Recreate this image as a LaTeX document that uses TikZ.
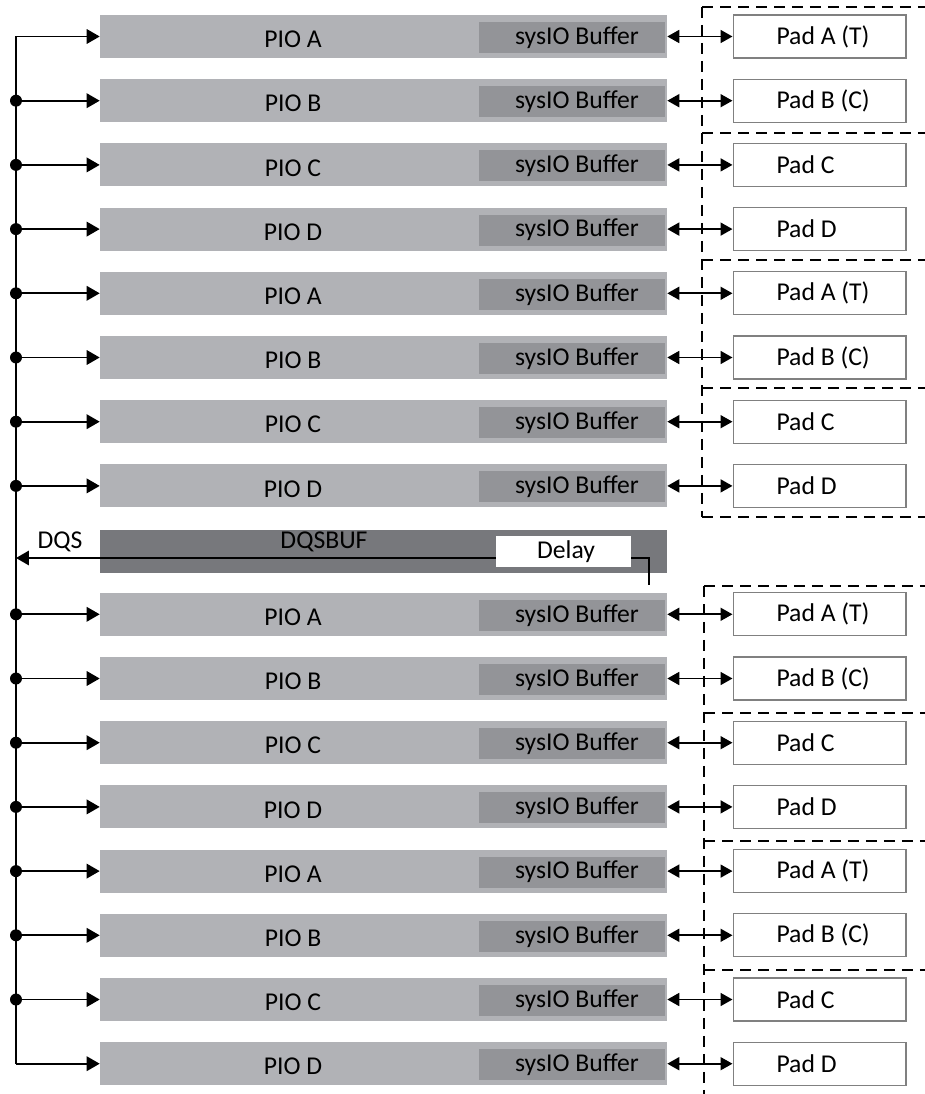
\documentclass[tikz,border=0pt]{standalone}
\usepackage{fontspec}
\setmainfont{Carlito}
\usepackage{tikz}
\usetikzlibrary{arrows.meta,calc}
\definecolor{piogray}{RGB}{177,178,182}
\definecolor{bufgray}{RGB}{147,148,152}
\definecolor{dqsgray}{RGB}{119,120,124}
\definecolor{padline}{RGB}{128,128,128}
\tikzset{
  txt/.style={font=\fontsize{14.6}{16}\selectfont, inner sep=0pt},
  piobar/.style={rectangle, fill=piogray, minimum width=11.34cm, minimum height=0.86cm, inner sep=0pt},
  dqsbar/.style={piobar, fill=dqsgray},
  sysbuf/.style={txt, rectangle, fill=bufgray, minimum width=3.72cm, minimum height=0.62cm},
  delaybox/.style={txt, rectangle, fill=white, minimum width=2.7cm, minimum height=0.62cm},
  padbox/.style={txt, rectangle, draw=padline, fill=white, line width=0.6pt, minimum width=3.46cm,
                 minimum height=0.86cm},
  feed/.style={-{Triangle[length=2.6mm, width=2.9mm]}, line width=1pt},
  twoway/.style={{Triangle[length=2.4mm, width=2.6mm]}-{Triangle[length=2.4mm, width=2.6mm]}, line width=1pt},
  grp/.style={dash pattern=on 0.22cm off 0.14cm, line width=1pt},
  dot/.style={circle, fill=black, inner sep=0pt, minimum size=0.24cm}
}
\begin{document}
\begin{tikzpicture}[x=0.02cm, y=-0.02cm]
  \useasboundingbox (0,0) rectangle (925,1094);

  % pad groups (open on the right)
  \draw[grp] (702,7) -- (702,517);
  \foreach \h in {7,133,260,388,517}
    \draw[grp] (702,\h) -- (925,\h);
  \draw[grp] (704,586) -- (704,1094);
  \foreach \h in {586,713,841,970}
    \draw[grp] (704,\h) -- (925,\h);

  % PIO rows
  \foreach \i/\l/\p in {0/A/{Pad A (T)},1/B/{Pad B (C)},2/C/{Pad C},3/D/{Pad D},
                        4/A/{Pad A (T)},5/B/{Pad B (C)},6/C/{Pad C},7/D/{Pad D},
                        9/A/{Pad A (T)},10/B/{Pad B (C)},11/C/{Pad C},12/D/{Pad D},
                        13/A/{Pad A (T)},14/B/{Pad B (C)},15/C/{Pad C},16/D/{Pad D}}
  { \pgfmathsetmacro\y{36.5+64.2*\i}
    \node[piobar] (pio\i) at (383.5,\y) {};
    \node[txt] (piot\i) at (293,\y+3) {PIO \l};
    \node[sysbuf] (buf\i) at (572,\y+1) {\hspace{0.2cm}\raisebox{-1pt}{sysIO Buffer}};
    \node[padbox] (pad\i) at (819.5,\y) {\makebox[2.6cm][l]{\hspace*{0.44cm}\raisebox{-2pt}{\p}}};
    \coordinate (bus\i) at (16,\y);
    \draw[twoway] (pio\i.east) -- (pad\i.west);
    \draw[feed] (bus\i) -- (pio\i.west); }

  % DQS strobe row
  \node[dqsbar] (dqsbuf) at (383.5,551.5) {};
  \node[txt] (dqsbuft) at (324,542) {DQSBUF};
  \node[delaybox] (dly) at (563.5,551.5) {\hspace{0.1cm}Delay};
  \node[txt] (dqsl) at (60,542) {DQS};
  \coordinate (dqs) at (16,558);
  \coordinate (tap) at (649,585);
  \draw[line width=1pt] (dly.east |- dqs) -| (tap);
  \draw[feed] (dly.west |- dqs) -- (dqs);

  % clock bus
  \draw[line width=1pt] (bus0) -- (bus16);
  \foreach \i in {1,...,7,9,10,...,15}
    \node[dot] (jn\i) at (bus\i) {};
\end{tikzpicture}
\end{document}
